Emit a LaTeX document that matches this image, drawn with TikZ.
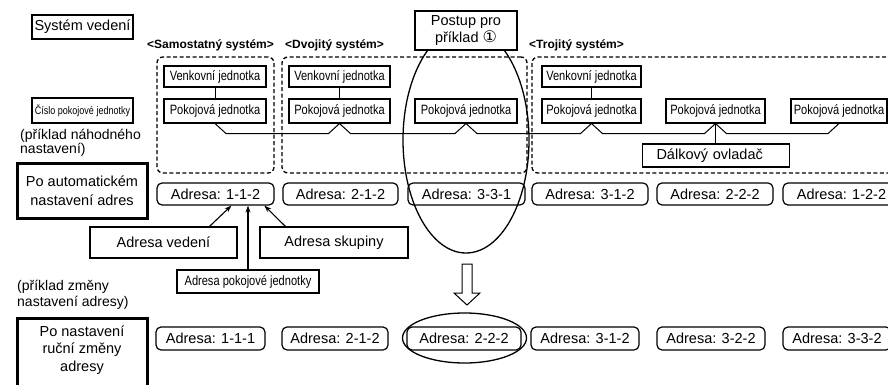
\documentclass[tikz,border=0pt]{standalone}
\usepackage{fontspec}
\setmainfont{Liberation Sans}
\newfontfamily\narrowfont[FakeStretch=0.82]{Liberation Sans}
\newfontfamily\symfont{DejaVu Sans}
\usetikzlibrary{shapes.geometric,arrows.meta,calc}
\tikzset{
  lbl/.style={draw, line width=1.1pt, inner sep=0pt, align=center, font=\fontsize{14.5}{17.5}\selectfont},
  unitbox/.style={draw, line width=1.1pt, inner sep=0pt, font=\narrowfont\fontsize{13.5}{15}\selectfont},
  addr/.style={draw, rounded corners=5pt, line width=1.2pt, inner sep=0pt, font=\fontsize{14.5}{17}\selectfont},
  heavy/.style={draw, line width=3pt, inner sep=0pt, align=center, font=\fontsize{14.5}{19}\selectfont},
  grp/.style={draw, dash pattern=on 4pt off 2.5pt, rounded corners=6pt, line width=1.3pt, inner sep=0pt},
  hdr/.style={font=\bfseries\fontsize{12}{14}\selectfont, anchor=west, inner sep=0pt},
  note/.style={anchor=west, align=left, inner sep=0pt},
  wire/.style={line width=1pt},
  ptr/.style={-{Stealth[length=7pt,width=5pt]}, line width=1.1pt},
  oval/.style={draw, ellipse, line width=1.3pt, inner sep=0pt},
}
\begin{document}
\begin{tikzpicture}[x=1pt,y=-1pt]
\useasboundingbox (0,0) rectangle (888,385);
\begin{scope}
\clip (0,0) rectangle (888,385);
% left labels
\node[lbl, minimum width=101pt, minimum height=24pt] (sv) at (82.5,27) {Systém vedení};
\node[unitbox, font=\narrowfont\fontsize{11}{13}\selectfont, minimum width=101pt, minimum height=25pt] (cpj) at (82.5,110.5) {Číslo pokojové jednotky};
\node[note, font=\fontsize{14}{13}\selectfont] (n1) at (20,143) {(příklad náhodného\\nastavení)};
\node[heavy, minimum width=130pt, minimum height=55pt] (auto) at (82,190.5) {Po automatickém\\nastavení adres};
\node[note, font=\fontsize{14}{16.5}\selectfont] (n2) at (17,295) {(příklad změny\\nastavení adresy)};
\node[heavy, minimum width=130pt, minimum height=78pt] (man) at (82,357) {};
\node[align=center, inner sep=0pt, font=\fontsize{14.5}{17.5}\selectfont] (mantext) at (82,350) {Po nastavení\\ruční změny\\adresy};
% headers
\node[hdr] (h1) at (147,45) {<Samostatný systém>};
\node[hdr] (h2) at (285,45) {<Dvojitý systém>};
\node[hdr] (h3) at (529,45) {<Trojitý systém>};
% groups
\node[grp, minimum width=117pt, minimum height=116pt] (g1) at (215.5,115) {};
\node[grp, minimum width=245pt, minimum height=116pt] (g2) at (404.5,115) {};
\node[grp, minimum width=373pt, minimum height=116pt] (g3) at (718.5,115) {};
% ellipse 1 and Postup box
\node[oval, minimum width=126pt, minimum height=226pt] (el1) at (466,140) {};
\node[lbl, fill=white, minimum width=102pt, minimum height=39pt] (post) at (466,30.5) {Postup pro\\příklad {\symfont\fontsize{16}{15}\selectfont ①}};
% units
\node[unitbox, minimum width=102pt, minimum height=21pt] (v1) at (215,76.5) {Venkovní jednotka};
\node[unitbox, minimum width=101pt, minimum height=21pt] (v2) at (339.5,76.5) {Venkovní jednotka};
\node[unitbox, minimum width=99pt, minimum height=21pt] (v3) at (591.5,76.5) {Venkovní jednotka};
\node[unitbox, minimum width=102pt, minimum height=24pt] (p1) at (215,111) {Pokojová jednotka};
\node[unitbox, minimum width=101pt, minimum height=24pt] (p2) at (339.5,111) {Pokojová jednotka};
\node[unitbox, minimum width=102pt, minimum height=24pt] (p3) at (466,111) {Pokojová jednotka};
\node[unitbox, minimum width=99pt, minimum height=24pt] (p4) at (591.5,111) {Pokojová jednotka};
\node[unitbox, minimum width=99pt, minimum height=24pt] (p5) at (715.5,111) {Pokojová jednotka};
\node[unitbox, minimum width=96pt, minimum height=24pt] (p6) at (839,111) {Pokojová jednotka};
\node[lbl, minimum width=147pt, minimum height=23pt, text width=147pt, align=left] (rc) at (716,155.5) {\hspace*{14pt}Dálkový ovladač};
% wires
\draw[wire] (v1) -- (p1);
\draw[wire] (v2) -- (p2);
\draw[wire] (v3) -- (p4);
\draw[wire] (p1.south) -- ++(11,10) -- ($(p2.south)+(-11,10)$) -- (p2.south) -- ++(11,10)
  -- ($(p3.south)+(-11,10)$) -- (p3.south) -- ++(11,10)
  -- ($(p4.south)+(-11,10)$) -- (p4.south) -- ++(11,10)
  -- ($(p5.south)+(-11,10)$) -- (p5.south) -- ++(11,10)
  -- ($(p6.south)+(-11,10)$) -- (p6.south);
\draw[wire] (p5.south) -- (p5.south |- rc.north);
% address row 1
\node[addr, minimum width=117pt, minimum height=22pt] (a1) at (215.5,194) {Adresa: 1-1-2};
\node[addr, minimum width=115pt, minimum height=22pt] (a2) at (340.5,194) {Adresa: 2-1-2};
\node[addr, minimum width=117pt, minimum height=22pt] (a3) at (466.5,194) {Adresa: 3-3-1};
\node[addr, minimum width=116pt, minimum height=22pt] (a4) at (590,194) {Adresa: 3-1-2};
\node[addr, minimum width=116pt, minimum height=22pt] (a5) at (715,194) {Adresa: 2-2-2};
\node[addr, minimum width=117pt, minimum height=22pt] (a6) at (841.5,194) {Adresa: 1-2-2};
% pointer labels
\node[lbl, minimum width=147pt, minimum height=31pt] (lv) at (163.5,242.5) {Adresa vedení};
\node[lbl, minimum width=148pt, minimum height=31pt] (ls) at (334,242.5) {Adresa skupiny};
\node[unitbox, minimum width=142pt, minimum height=23pt] (lp) at (248,281.5) {Adresa pokojové jednotky};
\draw[ptr] ($(lv.north west)+(120,0)$) -- ($(a1.south west)+(75,0)$);
\draw[ptr] ($(ls.north west)+(26,0)$) -- ($(a1.south west)+(108,0)$);
\draw[ptr, line width=1.5pt] (lp.north) -- (lp.north |- a1.south);
% hollow arrow
\draw[line width=1pt] (462,264) -- (472,264) -- (472,293) -- (480,293) -- (467,305) -- (454,293) -- (462,293) -- cycle;
% address row 2
\node[addr, minimum width=109pt, minimum height=23pt] (b1) at (210.5,338.5) {Adresa: 1-1-1};
\node[addr, minimum width=106pt, minimum height=23pt] (b2) at (335,338.5) {Adresa: 2-1-2};
\node[addr, minimum width=114pt, minimum height=23pt] (b3) at (464,338.5) {Adresa: 2-2-2};
\node[addr, minimum width=108pt, minimum height=23pt] (b4) at (585,338.5) {Adresa: 3-1-2};
\node[addr, minimum width=108pt, minimum height=23pt] (b5) at (711,338.5) {Adresa: 3-2-2};
\node[addr, minimum width=108pt, minimum height=23pt] (b6) at (837,338.5) {Adresa: 3-3-2};
\node[oval, minimum width=124pt, minimum height=50pt] (el2) at (464.5,338) {};
\end{scope}
\end{tikzpicture}
\end{document}
